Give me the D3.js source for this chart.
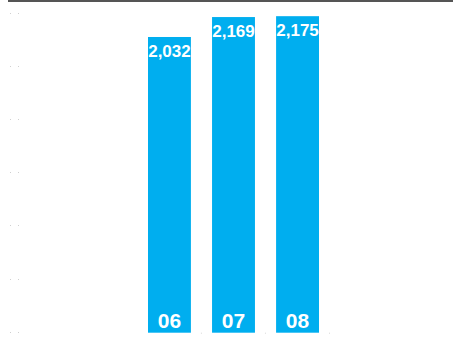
<!DOCTYPE html>
<html>
<head>
<meta charset="utf-8">
<script src="https://cdn.jsdelivr.net/npm/d3@7"></script>
<style>
	body { margin: 0; background: #fff; }
	svg { display: block; }
</style>
</head>
<body>
<div id="plot"></div>
<script>
// data
var years = ["06", "07", "08"];
var values = [2032, 2169, 2175];
var gridTicks = [0, 365, 730, 1095, 1460, 1825, 2190];

var width = 453, height = 356;

var svg = d3.select("#plot")
	.append("svg")
	.attr("width", width)
	.attr("height", height);

var xScale = d3.scaleBand()
	.domain(years)
	.range([148, 319])
	.paddingInner(0.33)
	.paddingOuter(0);

var yScale = d3.scaleLinear()
	.domain([0, 2190])
	.range([332.7, 14]);

//top rule
svg.append("rect")
	.attr("x", 8)
	.attr("y", 0)
	.attr("width", width - 8)
	.attr("height", 2)
	.attr("fill", "#555");

//faint grid dots on the left
var dots = svg.append("g").attr("fill", "#d0d0d0");
gridTicks.forEach(function (t) {
	[10, 18].forEach(function (x) {
		dots.append("rect")
			.attr("x", x)
			.attr("y", Math.round(yScale(t)) - 1)
			.attr("width", 1)
			.attr("height", 1);
	});
});

//small marks after each bar at the baseline
svg.append("g")
	.attr("fill", "#d8d8d8")
	.selectAll("rect")
	.data(years)
	.enter().append("rect")
	.attr("x", function (d) { return xScale(d) + xScale.bandwidth() + 10; })
	.attr("y", yScale(0))
	.attr("width", 1)
	.attr("height", 1);

//bars
svg.append("g")
	.selectAll("rect")
	.data(values)
	.enter().append("rect")
	.attr("x", function (d, i) { return xScale(years[i]); })
	.attr("y", function (d) { return yScale(d); })
	.attr("width", xScale.bandwidth())
	.attr("height", function (d) { return yScale(0) - yScale(d); })
	.attr("fill", "#00aeef");

//value labels
svg.append("g")
	.selectAll("text")
	.data(values)
	.enter().append("text")
	.attr("x", function (d, i) { return xScale(years[i]) + xScale.bandwidth() / 2; })
	.attr("y", function (d) { return yScale(d) + 20; })
	.attr("text-anchor", "middle")
	.attr("fill", "#fff")
	.style("font-family", "'Liberation Sans', Arial, Helvetica, sans-serif")
	.style("font-weight", "bold")
	.style("font-size", "17px")
	.text(function (d) { return d3.format(",")(d); });

//year labels
svg.append("g")
	.selectAll("text")
	.data(years)
	.enter().append("text")
	.attr("x", function (d) { return xScale(d) + xScale.bandwidth() / 2; })
	.attr("y", yScale(0) - 5)
	.attr("text-anchor", "middle")
	.attr("fill", "#fff")
	.style("font-family", "'Liberation Sans', Arial, Helvetica, sans-serif")
	.style("font-weight", "bold")
	.style("font-size", "21px")
	.text(function (d) { return d; });
</script>
</body>
</html>
